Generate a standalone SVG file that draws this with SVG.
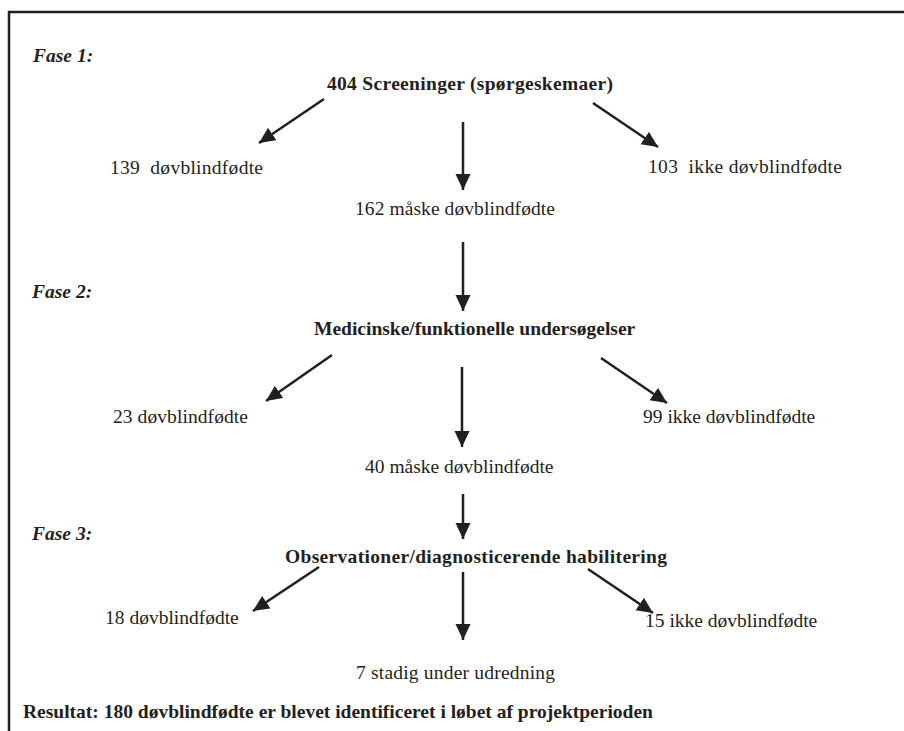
<svg xmlns="http://www.w3.org/2000/svg" width="904" height="731" viewBox="0 0 904 731">
<style>
  text { font-family: "Liberation Serif", "Times New Roman", serif; font-size: 19.5px; fill: #231f20; }
  .b { font-weight: bold; }
  .bi { font-weight: bold; font-style: italic; }
  .conn line { stroke: #231f20; stroke-width: 2.5; marker-end: url(#ah); }
</style>
<defs>
  <marker id="ah" markerUnits="userSpaceOnUse" markerWidth="18" markerHeight="16" refX="16" refY="7.5" orient="auto">
    <path d="M0,0 L16,7.5 L0,15 z" fill="#231f20"/>
  </marker>
</defs>
<rect width="904" height="731" fill="#fff"/>
<path d="M904,12 H9 V731" fill="none" stroke="#231f20" stroke-width="2.5"/>

<g id="phase1"><text class="bi" x="33" y="62">Fase 1:</text></g>
<g id="screening"><text class="b" x="327" y="90" textLength="286">404 Screeninger (spørgeskemaer)</text></g>
<g id="n139"><text x="110" y="174" textLength="153" xml:space="preserve">139  døvblindfødte</text></g>
<g id="n162"><text x="355" y="215" textLength="200">162 måske døvblindfødte</text></g>
<g id="n103"><text x="648" y="173" textLength="194" xml:space="preserve">103  ikke døvblindfødte</text></g>

<g id="phase2"><text class="bi" x="32" y="298">Fase 2:</text></g>
<g id="medical"><text class="b" x="314" y="335">Medicinske/funktionelle undersøgelser</text></g>
<g id="n23"><text x="113" y="423" textLength="135">23 døvblindfødte</text></g>
<g id="n40"><text x="365" y="473">40 måske døvblindfødte</text></g>
<g id="n99"><text x="643" y="423">99 ikke døvblindfødte</text></g>

<g id="phase3"><text class="bi" x="32" y="540">Fase 3:</text></g>
<g id="observation"><text class="b" x="285" y="563" textLength="382">Observationer/diagnosticerende habilitering</text></g>
<g id="n18"><text x="105" y="624">18 døvblindfødte</text></g>
<g id="n7"><text x="356" y="679" textLength="199">7 stadig under udredning</text></g>
<g id="n15"><text x="645" y="627">15 ikke døvblindfødte</text></g>

<g id="result"><text class="b" x="23" y="718">Resultat: 180 døvblindfødte er blevet identificeret i løbet af projektperioden</text></g>

<g class="conn" id="connectors">
  <line x1="324" y1="99" x2="259" y2="143"/>
  <line x1="463" y1="122" x2="463" y2="190"/>
  <line x1="593" y1="103" x2="658" y2="147"/>
  <line x1="463" y1="242" x2="463" y2="311"/>
  <line x1="332" y1="355" x2="266" y2="401"/>
  <line x1="462" y1="367" x2="462" y2="447"/>
  <line x1="601" y1="358" x2="667" y2="403"/>
  <line x1="463" y1="494" x2="463" y2="539"/>
  <line x1="319" y1="567" x2="253" y2="611"/>
  <line x1="463" y1="572" x2="463" y2="640"/>
  <line x1="588" y1="569" x2="653" y2="613"/>
</g>
</svg>
